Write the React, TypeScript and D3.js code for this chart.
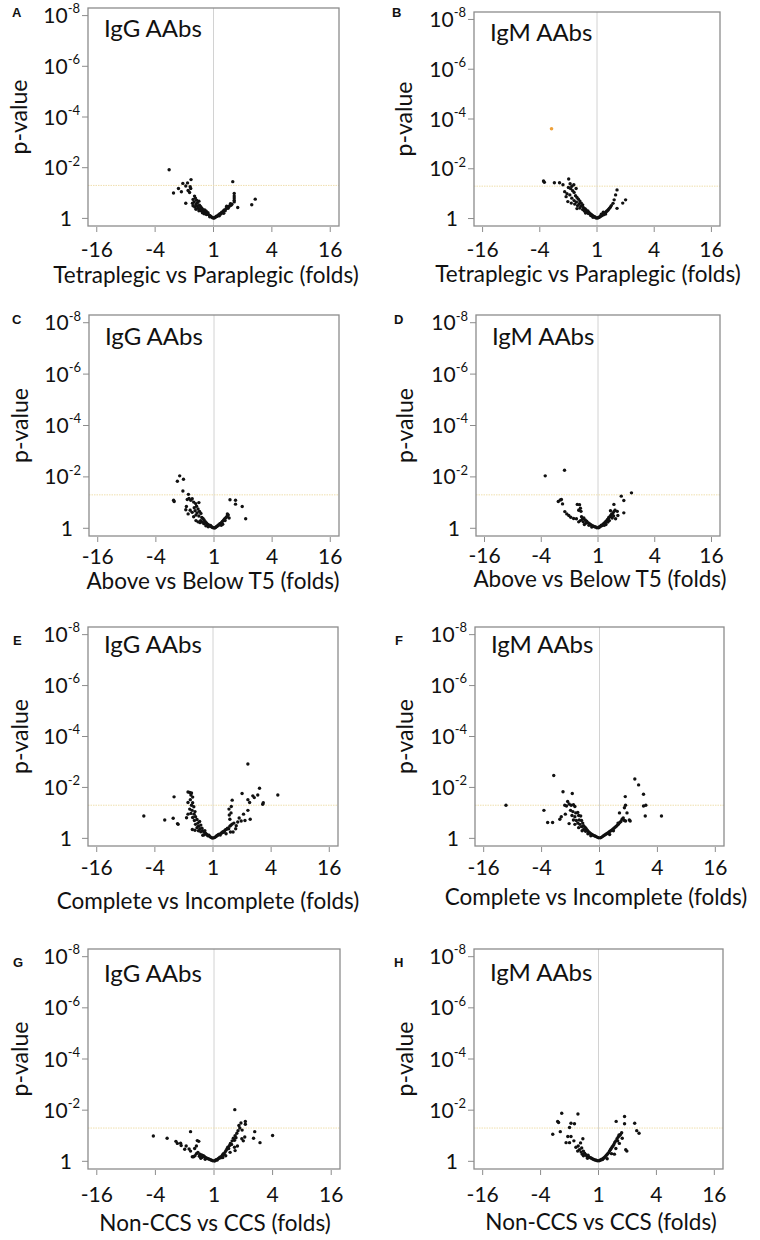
import React from "react";
import * as d3 from "d3";

// ---------- DATA (x = log2 fold change, y = -log10 p-value) ----------
const xTickValues = [-4, -2, 0, 2, 4];
const yTickValues = [0, 2, 4, 6, 8];
const pThreshold = 0.05;

const panelLetters = ["A", "B", "C", "D", "E", "F", "G", "H"];
const antibodyTags = ["IgG AAbs", "IgM AAbs", "IgG AAbs", "IgM AAbs", "IgG AAbs", "IgM AAbs", "IgG AAbs", "IgM AAbs"];
const comparisonLabels = [
  "Tetraplegic vs Paraplegic (folds)",
  "Tetraplegic vs Paraplegic (folds)",
  "Above vs Below T5 (folds)",
  "Above vs Below T5 (folds)",
  "Complete vs Incomplete (folds)",
  "Complete vs Incomplete (folds)",
  "Non-CCS vs CCS (folds)",
  "Non-CCS vs CCS (folds)",
];

const pointsA: number[][] = [
  [-1.52,1.92],[-1.05,1.38],[-0.89,1.40],[-0.77,1.53],[-0.95,1.28],[-0.80,1.25],[-0.78,1.18],[-1.20,1.18],[-1.37,1.00],[-1.10,1.05],
  [-0.87,1.10],[-0.82,1.02],[-0.95,0.60],[-0.65,0.88],[-0.62,0.80],[-0.70,0.75],[-0.58,0.72],[-0.66,0.65],[-0.72,0.60],[-0.55,0.62],
  [-0.50,0.68],[-0.60,0.55],[-0.70,0.50],[-0.64,0.45],[-0.56,0.48],[-0.48,0.52],[-0.44,0.46],[-0.52,0.40],[-0.46,0.36],[-0.40,0.40],
  [-0.36,0.34],[-0.42,0.30],[-0.33,0.28],[-0.30,0.33],[-0.28,0.24],[-0.25,0.28],[-0.22,0.20],[-0.19,0.22],[-0.17,0.15],[-0.14,0.12],
  [-0.11,0.10],[-0.08,0.07],[-0.05,0.04],[-0.02,0.02],[-0.24,0.15],[-0.38,0.22],[-0.50,0.30],[-0.60,0.36],[-0.32,0.18],[-0.13,0.06],
  [0.02,0.01],[0.04,0.04],[0.07,0.05],[0.10,0.09],[0.13,0.08],[0.16,0.13],[0.19,0.15],[0.22,0.19],[0.25,0.17],[0.28,0.24],
  [0.31,0.22],[0.34,0.29],[0.37,0.33],[0.40,0.30],[0.43,0.38],[0.46,0.42],[0.50,0.40],[0.53,0.47],[0.56,0.50],[0.60,0.52],
  [0.63,0.56],[0.45,0.48],[0.58,0.58],[0.66,1.45],[0.71,0.98],[0.71,0.88],[0.71,0.80],[0.71,0.72],[0.71,0.65],[0.83,0.43],
  [1.31,0.54],[1.43,0.76],[0.20,0.10],[0.35,0.20],
];
const pointsB: number[][] = [
  [-1.87,1.51],[-1.84,1.46],[-1.49,1.44],[-1.31,1.44],[-1.19,1.36],[-0.99,1.59],[-0.94,1.40],[-0.81,1.36],[-0.88,1.30],[-1.00,1.25],
  [-0.92,1.20],[-0.73,1.21],[-0.85,1.12],[-1.13,1.08],[-1.05,1.00],[-0.80,1.05],[-0.95,0.95],[-1.08,0.88],[-0.75,0.92],[-0.70,0.85],
  [-0.88,0.82],[-1.02,0.68],[-0.90,0.62],[-0.80,0.72],[-0.65,0.78],[-0.72,0.66],[-0.60,0.70],[-0.62,0.60],[-0.78,0.58],[-0.55,0.62],
  [-0.68,0.52],[-0.57,0.50],[-0.50,0.55],[-0.48,0.45],[-0.60,0.42],[-0.42,0.40],[-0.50,0.36],[-0.38,0.34],[-0.44,0.30],[-0.32,0.30],
  [-0.36,0.25],[-0.28,0.24],[-0.30,0.20],[-0.24,0.19],[-0.20,0.16],[-0.22,0.12],[-0.16,0.12],[-0.12,0.09],[-0.09,0.07],[-0.06,0.05],
  [-0.03,0.02],[-0.14,0.05],[-0.40,0.22],[-0.70,0.40],
  [0.02,0.02],[0.05,0.04],[0.08,0.05],[0.11,0.08],[0.14,0.10],[0.17,0.12],[0.20,0.16],[0.23,0.15],[0.26,0.20],[0.29,0.23],
  [0.32,0.27],[0.35,0.30],[0.38,0.33],[0.41,0.38],[0.44,0.42],[0.47,0.46],[0.30,0.18],[0.22,0.25],[0.56,0.61],[0.50,0.52],
  [0.65,0.95],[0.70,1.15],[1.00,0.75],[0.70,0.41],[0.60,0.75],[0.90,0.62],[0.15,0.17],
];
const highlightB: number[][] = [[-1.59, 3.61]];
const pointsC: number[][] = [
  [-1.18,2.04],[-1.05,1.91],[-1.26,1.83],[-1.07,1.45],[-1.39,1.09],[-1.37,1.04],[-0.88,1.32],[-0.86,1.16],[-0.80,1.09],[-0.92,1.12],
  [-0.75,1.15],[-0.63,0.96],[-0.70,1.02],[-0.52,1.00],[-0.97,0.72],[-0.95,0.85],[-0.82,0.70],[-0.89,0.56],[-0.75,0.62],[-0.68,0.80],
  [-0.60,0.86],[-0.55,0.75],[-0.65,0.68],[-0.58,0.60],[-0.50,0.66],[-0.62,0.52],[-0.45,0.58],[-0.52,0.48],[-0.70,0.45],[-0.46,0.30],
  [-0.42,0.42],[-0.38,0.38],[-0.48,0.22],[-0.40,0.24],[-0.34,0.32],[-0.30,0.26],[-0.35,0.18],[-0.26,0.21],[-0.22,0.16],[-0.18,0.13],
  [-0.15,0.09],[-0.12,0.11],[-0.09,0.06],[-0.06,0.04],[-0.03,0.02],[-0.28,0.10],[-0.20,0.06],[-0.55,0.25],[-0.62,0.30],
  [0.02,0.01],[0.05,0.03],[0.08,0.06],[0.11,0.08],[0.14,0.12],[0.17,0.13],[0.20,0.18],[0.24,0.20],[0.27,0.24],[0.30,0.28],
  [0.33,0.31],[0.36,0.36],[0.40,0.40],[0.43,0.44],[0.46,0.48],[0.49,0.52],[0.38,0.30],[0.30,0.16],[0.46,0.56],[0.55,1.11],
  [0.74,1.09],[0.74,0.94],[0.97,0.85],[1.09,0.37],[0.25,0.12],[0.52,0.40],
];
const pointsD: number[][] = [
  [-1.86,2.04],[-1.18,2.26],[-1.40,1.04],[-1.33,1.10],[-1.29,1.12],[-1.25,0.95],[-0.73,0.93],[-0.65,0.92],[-0.62,0.78],[-0.68,0.70],
  [-0.60,0.66],[-1.17,0.65],[-1.10,0.56],[-1.03,0.50],[-0.96,0.43],[-0.86,0.38],[-0.76,0.37],[-0.62,0.30],[-0.55,0.35],[-0.58,0.45],
  [-0.50,0.40],[-0.45,0.32],[-0.52,0.25],[-0.40,0.28],[-0.42,0.20],[-0.35,0.22],[-0.30,0.18],[-0.32,0.12],[-0.25,0.14],[-0.20,0.10],
  [-0.16,0.08],[-0.12,0.06],[-0.08,0.05],[-0.04,0.02],[-0.22,0.05],[-0.48,0.15],[-0.68,0.25],
  [0.02,0.02],[0.04,0.05],[0.07,0.06],[0.10,0.09],[0.12,0.12],[0.15,0.11],[0.18,0.16],[0.21,0.19],[0.24,0.22],[0.27,0.26],
  [0.30,0.29],[0.33,0.33],[0.36,0.36],[0.38,0.42],[0.42,0.45],[0.45,0.50],[0.48,0.55],[0.52,0.58],[0.56,0.65],[0.50,0.40],
  [0.56,0.93],[0.44,0.68],[0.60,0.70],[0.68,0.66],[0.62,0.37],[0.70,0.50],[0.91,0.60],[0.82,1.25],[0.91,1.08],[1.18,1.38],
  [0.28,0.15],[0.40,0.30],[0.55,0.48],[0.22,0.12],[0.35,0.24],
];
const pointsE: number[][] = [
  [-2.38,0.88],[-1.66,0.72],[-1.37,0.79],[-1.34,1.63],[-1.22,0.58],[-1.20,0.55],[-0.86,1.82],[-0.80,1.80],[-0.74,1.78],[-0.76,1.70],
  [-0.70,1.62],[-0.86,1.41],[-0.78,1.52],[-0.70,1.40],[-0.74,1.30],[-0.66,1.24],[-0.80,1.15],[-0.72,1.10],[-0.62,1.05],[-0.86,0.95],
  [-0.76,0.98],[-0.65,0.95],[-0.91,0.81],[-0.70,0.82],[-0.60,0.85],[-0.55,0.74],[-0.64,0.70],[-0.52,0.60],[-0.60,0.55],[-0.71,0.35],
  [-0.46,0.66],[-0.50,0.48],[-0.42,0.52],[-0.45,0.38],[-0.55,0.42],[-0.38,0.40],[-0.36,0.30],[-0.42,0.26],[-0.31,0.25],[-0.28,0.30],
  [-0.25,0.19],[-0.30,0.14],[-0.21,0.15],[-0.18,0.10],[-0.14,0.12],[-0.11,0.07],[-0.08,0.05],[-0.05,0.03],[-0.02,0.01],[-0.62,0.32],
  [-0.50,0.30],[-0.35,0.12],
  [0.03,0.02],[0.06,0.04],[0.09,0.06],[0.12,0.09],[0.15,0.11],[0.18,0.14],[0.21,0.16],[0.25,0.13],[0.28,0.20],[0.31,0.22],
  [0.34,0.26],[0.37,0.24],[0.40,0.30],[0.43,0.34],[0.47,0.36],[0.50,0.40],[0.54,0.38],[0.58,0.48],[0.62,0.52],[0.66,0.56],
  [0.60,0.25],[0.45,0.18],[0.69,0.25],[0.78,0.38],[0.72,0.60],[0.58,0.75],[0.56,0.92],[0.62,1.00],[0.55,1.15],[0.63,1.25],
  [0.66,1.50],[0.97,0.68],[0.90,0.80],[0.85,0.64],[1.00,1.76],[1.10,0.70],[1.20,1.10],[1.28,0.75],[1.26,1.41],[1.20,1.52],
  [1.37,1.67],[1.42,1.60],[1.54,1.70],[1.60,1.97],[1.71,1.34],[1.73,1.40],[1.20,2.92],[2.23,1.70],[1.05,0.95],[0.80,0.50],
];
const pointsF: number[][] = [
  [-3.23,1.30],[-1.92,1.10],[-1.79,0.62],[-1.62,0.62],[-1.58,2.47],[-1.26,1.83],[-0.94,1.76],[-1.37,0.75],[-1.32,0.85],[-1.14,1.27],
  [-1.10,1.45],[-1.20,1.30],[-1.05,1.35],[-0.98,1.30],[-0.90,1.32],[-0.85,1.25],[-1.05,0.58],[-1.18,0.95],[-1.00,1.10],[-0.92,1.05],
  [-0.82,1.00],[-0.75,1.02],[-0.95,0.90],[-0.85,0.85],[-0.72,0.90],[-0.65,0.88],[-0.90,0.72],[-0.80,0.70],[-0.70,0.72],[-0.62,0.70],
  [-0.75,0.60],[-0.68,0.55],[-0.58,0.60],[-0.85,0.55],[-0.62,0.46],[-0.55,0.50],[-0.50,0.44],[-0.72,0.42],[-0.46,0.38],[-0.55,0.35],
  [-0.42,0.32],[-0.48,0.28],[-0.38,0.26],[-0.34,0.22],[-0.40,0.18],[-0.30,0.18],[-0.26,0.15],[-0.22,0.12],[-0.18,0.10],[-0.14,0.08],
  [-0.10,0.06],[-0.06,0.04],[-0.03,0.02],[-0.60,0.30],[-0.30,0.10],
  [0.03,0.02],[0.06,0.04],[0.10,0.07],[0.14,0.10],[0.18,0.13],[0.22,0.16],[0.26,0.19],[0.30,0.22],[0.34,0.26],[0.38,0.29],
  [0.42,0.32],[0.46,0.36],[0.50,0.40],[0.54,0.44],[0.58,0.48],[0.62,0.52],[0.66,0.56],[0.69,1.00],[0.64,0.60],[0.70,0.62],
  [0.74,0.66],[0.78,0.75],[0.82,0.80],[0.86,0.70],[0.90,0.68],[1.06,0.68],[1.03,0.72],[0.89,1.64],[0.90,1.30],[0.86,1.20],
  [0.95,1.00],[1.22,2.33],[1.35,2.10],[1.52,1.73],[1.52,1.27],[1.60,1.30],[1.58,0.88],[2.14,0.88],[0.35,0.15],[0.48,0.30],
];
const pointsG: number[][] = [
  [-2.07,0.99],[-1.60,0.90],[-0.80,1.16],[-1.30,0.78],[-1.25,0.70],[-1.14,0.71],[-1.12,0.62],[-1.00,0.47],[-0.95,0.60],[-0.85,0.48],
  [-0.80,0.40],[-0.74,0.18],[-0.57,0.81],[-0.52,0.78],[-0.60,0.60],[-0.66,0.50],[-0.55,0.35],[-0.60,0.30],[-0.48,0.28],[-0.42,0.25],
  [-0.50,0.20],[-0.36,0.22],[-0.40,0.16],[-0.32,0.18],[-0.28,0.14],[-0.24,0.12],[-0.20,0.10],[-0.16,0.08],[-0.12,0.06],[-0.08,0.04],
  [-0.04,0.02],[-0.70,0.18],[-0.45,0.12],[-0.30,0.08],[-0.65,0.22],
  [0.02,0.01],[0.05,0.04],[0.08,0.06],[0.11,0.05],[0.14,0.10],[0.17,0.12],[0.20,0.16],[0.23,0.14],[0.26,0.20],[0.29,0.25],
  [0.32,0.30],[0.35,0.28],[0.38,0.36],[0.41,0.42],[0.44,0.48],[0.47,0.55],[0.50,0.50],[0.53,0.62],[0.56,0.70],[0.60,0.66],
  [0.62,0.80],[0.66,0.90],[0.70,0.82],[0.72,1.00],[0.75,0.92],[0.78,1.10],[0.82,1.20],[0.85,1.40],[0.88,1.30],[0.92,1.50],
  [0.71,2.02],[1.07,1.56],[1.07,1.45],[0.96,1.22],[0.95,0.88],[1.05,0.95],[0.70,0.55],[0.72,0.42],[0.80,0.60],[1.00,0.80],
  [1.39,1.16],[2.00,1.01],[1.35,0.90],[1.57,0.73],[0.40,0.22],[0.55,0.35],[0.30,0.15],
];
const pointsH: number[][] = [
  [-1.27,1.88],[-0.71,1.85],[-1.41,1.56],[-1.38,1.52],[-1.58,1.06],[-1.32,1.16],[-0.95,1.49],[-0.83,1.47],[-1.00,1.32],[-1.06,0.97],
  [-0.95,0.97],[-1.12,0.73],[-1.00,0.73],[-0.85,0.80],[-0.54,0.88],[-0.62,0.72],[-0.70,0.60],[-0.78,0.55],[-0.58,0.52],[-0.66,0.45],
  [-0.52,0.40],[-0.60,0.36],[-0.48,0.32],[-0.44,0.26],[-0.52,0.22],[-0.40,0.20],[-0.36,0.24],[-0.32,0.16],[-0.28,0.14],[-0.24,0.12],
  [-0.20,0.09],[-0.16,0.07],[-0.12,0.05],[-0.08,0.04],[-0.04,0.02],[-0.72,0.40],[-0.56,0.28],[-0.38,0.12],
  [0.02,0.02],[0.05,0.04],[0.08,0.05],[0.11,0.08],[0.14,0.07],[0.17,0.12],[0.20,0.14],[0.23,0.18],[0.26,0.22],[0.29,0.26],
  [0.32,0.30],[0.35,0.34],[0.38,0.40],[0.41,0.45],[0.44,0.50],[0.47,0.56],[0.50,0.60],[0.53,0.66],[0.56,0.74],[0.60,0.80],
  [0.64,0.88],[0.68,0.95],[0.72,1.00],[0.76,1.05],[0.80,1.12],[0.71,1.03],[0.66,0.80],[0.72,0.70],[0.82,0.90],[0.61,1.56],
  [0.90,1.75],[0.90,1.47],[1.25,1.49],[1.32,1.20],[1.40,1.10],[0.94,0.45],[0.98,0.40],[0.60,0.50],[0.45,0.30],[0.30,0.10],[0.55,0.28],
];

const panelPoints = [pointsA, pointsB, pointsC, pointsD, pointsE, pointsF, pointsG, pointsH];
const panelHighlights: number[][][] = [[], highlightB, [], [], [], [], [], []];

// ---------- LAYOUT ----------
const xDomain = [-4.3, 4.3];
const yDomain = [-0.3, 8.3];

const layouts = [
  { x0: 88, x1: 339, y0: 8, y1: 226, letterX: 12, letterY: 17, tagY: 37, yLabX: 27, xLabX: 206, tickLabY: 257, xLabY: 283 },
  { x0: 474, x1: 720, y0: 12, y1: 226, letterX: 392, letterY: 17, tagY: 41, yLabX: 412, xLabX: 588, tickLabY: 257, xLabY: 282 },
  { x0: 89, x1: 339, y0: 315, y1: 536, letterX: 12, letterY: 324, tagY: 345, yLabX: 28, xLabX: 213, tickLabY: 564, xLabY: 589 },
  { x0: 476, x1: 720, y0: 315, y1: 536, letterX: 394, letterY: 324, tagY: 345, yLabX: 413, xLabX: 600, tickLabY: 563, xLabY: 587 },
  { x0: 88, x1: 338, y0: 627, y1: 846, letterX: 13, letterY: 645, tagY: 653, yLabX: 28, xLabX: 208, tickLabY: 875, xLabY: 909 },
  { x0: 475, x1: 724, y0: 627, y1: 846, letterX: 395, letterY: 645, tagY: 653, yLabX: 413, xLabX: 596, tickLabY: 875, xLabY: 905 },
  { x0: 88, x1: 340, y0: 949, y1: 1169, letterX: 13, letterY: 967, tagY: 982, yLabX: 28, xLabX: 215, tickLabY: 1202, xLabY: 1231 },
  { x0: 474, x1: 723, y0: 949, y1: 1169, letterX: 394, letterY: 967, tagY: 981, yLabX: 413, xLabX: 601, tickLabY: 1202, xLabY: 1230 },
];

const FONT = "Lato, 'Open Sans', sans-serif";
const FRAME = "#8c8c8c";

function foldLabel(v: number) {
  if (v === 0) return "1";
  const f = Math.pow(2, Math.abs(v));
  return (v < 0 ? "-" : "") + String(f);
}

function Panel({ i }: { i: number }) {
  const L = layouts[i];
  const x = d3.scaleLinear().domain(xDomain).range([L.x0, L.x1]);
  const y = d3.scaleLinear().domain(yDomain).range([L.y1, L.y0]);
  const pts = panelPoints[i];
  const hi = panelHighlights[i];
  const thrY = y(-Math.log10(pThreshold));
  return (
    <g>
      <text x={L.letterX} y={L.letterY} fontFamily="Arial, 'Liberation Sans', sans-serif" fontWeight="bold" fontSize={13} fill="#111">
        {panelLetters[i]}
      </text>
      <line x1={x(0)} x2={x(0)} y1={L.y0} y2={L.y1} stroke="#d2d2d2" strokeWidth={1} />
      <line x1={L.x0} x2={L.x1} y1={thrY} y2={thrY} stroke="#efdfae" strokeWidth={1} strokeDasharray="1.5,1" />
      {pts.map((p, k) => (
        <circle key={k} cx={x(p[0])} cy={y(p[1])} r={1.7} fill="#111" />
      ))}
      {hi.map((p, k) => (
        <circle key={"h" + k} cx={x(p[0])} cy={y(p[1])} r={1.8} fill="#eea13a" />
      ))}
      <rect x={L.x0} y={L.y0} width={L.x1 - L.x0} height={L.y1 - L.y0} fill="none" stroke={FRAME} strokeWidth={1.3} />
      {xTickValues.map((v) => (
        <g key={"xt" + v}>
          <line x1={x(v)} x2={x(v)} y1={L.y1 + 1} y2={L.y1 + 6} stroke={FRAME} strokeWidth={1} />
          <text x={x(v)} y={L.tickLabY} textAnchor="middle" fontFamily={FONT} fontSize={21} fill="#111">
            {foldLabel(v)}
          </text>
        </g>
      ))}
      {yTickValues.map((v) => (
        <g key={"yt" + v}>
          <line x1={L.x0 - 6} x2={L.x0} y1={y(v)} y2={y(v)} stroke={FRAME} strokeWidth={1} />
          {v === 0 ? (
            <text x={L.x0 - 16} y={y(v)} dy="0.36em" textAnchor="end" fontFamily={FONT} fontSize={21} fill="#111">1</text>
          ) : (
            <text x={L.x0 - 8} y={y(v)} dy="0.36em" textAnchor="end" fontFamily={FONT} fontSize={21} fill="#111">
              10<tspan fontSize={13} dy="-0.75em">{"-" + v}</tspan>
            </text>
          )}
        </g>
      ))}
      <text x={L.x0 + 16} y={L.tagY} fontFamily={FONT} fontSize={24} fill="#111">{antibodyTags[i]}</text>
      <text
        transform={`translate(${L.yLabX},${(L.y0 + L.y1) / 2}) rotate(-90)`}
        textAnchor="middle"
        fontFamily={FONT}
        fontSize={23}
        fill="#111"
      >
        p-value
      </text>
      <text x={L.xLabX} y={L.xLabY} textAnchor="middle" fontFamily={FONT} fontSize={22.5} fill="#111">
        {comparisonLabels[i]}
      </text>
    </g>
  );
}

export default function App() {
  return (
    <svg width={760} height={1240} style={{ position: "absolute", left: 0, top: 0, background: "#fff" }}>
      <rect width={760} height={1240} fill="#fff" />
      {panelLetters.map((_, i) => (
        <Panel key={i} i={i} />
      ))}
    </svg>
  );
}
